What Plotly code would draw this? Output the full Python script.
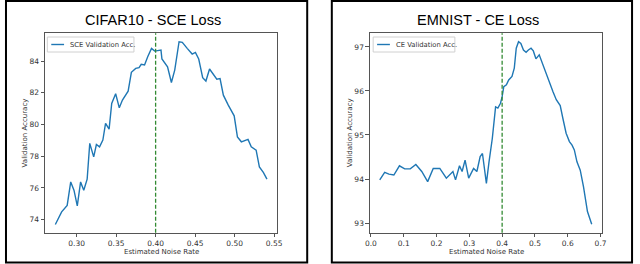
import plotly.graph_objects as go

# ---- data ----
cifar_noise = [0.273,0.281,0.288,0.2925,0.2966,0.3008,0.305,0.309,0.3133,0.3166,0.3216,0.325,0.329,0.3332,
               0.3366,0.3411,0.3444,0.3494,0.354,0.358,0.3652,0.3693,0.3748,0.379,0.3818,0.386,0.390,0.3948,
               0.3989,0.4068,0.408,0.4151,0.420,0.4242,0.4297,0.4338,0.440,0.4463,0.4504,0.4546,0.4596,0.4637,
               0.4683,0.4725,0.4775,0.4816,0.4858,0.492,0.4995,0.5036,0.5086,0.517,0.5211,0.5273,0.5314,0.5364,0.541]
cifar_acc = [73.70,74.49,74.9,76.38,75.86,74.87,76.38,75.86,76.55,78.81,77.96,78.74,78.59,79.02,80.07,79.71,
             81.33,81.94,81.05,81.54,82.1,83.29,83.54,83.58,83.79,83.75,84.27,84.8,84.63,84.69,84.13,83.64,
             82.65,83.43,85.22,85.18,84.8,84.44,84.55,84.13,82.95,82.74,83.5,83.22,82.86,82.9,81.85,81.22,
             80.55,79.22,78.91,79.06,78.59,78.38,77.33,76.98,76.56]

emnist_noise = [0.027,0.042,0.055,0.07,0.087,0.103,0.12,0.137,0.155,0.173,0.19,0.21,0.23,0.25,0.258,0.27,
                0.278,0.287,0.298,0.313,0.323,0.333,0.34,0.352,0.36,0.37,0.38,0.387,0.395,0.40,0.405,0.413,
                0.42,0.43,0.437,0.443,0.45,0.457,0.465,0.473,0.48,0.488,0.495,0.503,0.513,0.522,0.535,0.545,
                0.555,0.565,0.577,0.585,0.595,0.605,0.613,0.62,0.628,0.638,0.648,0.66,0.673]
emnist_acc = [93.98,94.15,94.11,94.09,94.30,94.23,94.23,94.33,94.17,93.94,94.24,94.24,94.02,94.17,93.98,
              94.30,94.17,94.43,94.02,94.24,94.17,94.51,94.58,93.9,94.39,94.92,95.64,95.61,95.72,95.87,
              96.1,96.14,96.25,96.33,96.52,96.97,97.12,97.08,96.93,96.88,96.93,96.97,96.91,96.73,96.82,
              96.63,96.36,96.17,95.98,95.80,95.67,95.38,95.04,94.85,94.77,94.66,94.39,94.2,93.82,93.26,92.97]

true_noise = 0.4

cifar_xticks = [0.30, 0.35, 0.40, 0.45, 0.50, 0.55]
cifar_yticks = [74, 76, 78, 80, 82, 84]
emnist_xticks = [0.0, 0.1, 0.2, 0.3, 0.4, 0.5, 0.6, 0.7]
emnist_yticks = [93, 94, 95, 96, 97]

titles = ["CIFAR10 - SCE Loss", "EMNIST - CE Loss"]
legend_names = ["SCE Validation Acc.", "CE Validation Acc."]
xlabel = "Estimated Noise Rate"
ylabel = "Validation Accuracy"

# ---- layout helpers ----
W, H = 640, 264
def px(x): return x / W
def py(y): return 1 - y / H

BLUE = "#1f77b4"
GREEN = "#338a33"
SPINE = "#555555"
TXT = "#333333"
FONT = "DejaVu Sans"

fig = go.Figure()
fig.add_trace(go.Scatter(x=cifar_noise, y=cifar_acc, mode="lines", name=legend_names[0],
                         line=dict(color=BLUE, width=1.4), xaxis="x", yaxis="y"))
fig.add_trace(go.Scatter(x=emnist_noise, y=emnist_acc, mode="lines", name=legend_names[1],
                         line=dict(color=BLUE, width=1.4), xaxis="x2", yaxis="y2"))

def axis_common():
    return dict(showline=True, linecolor=SPINE, linewidth=1, mirror=True, showgrid=False, zeroline=False,
                ticks="outside", ticklen=3.5, tickwidth=1, tickcolor=SPINE,
                tickfont=dict(family=FONT, size=7.5, color=TXT))

plot_boxes = [(40.7, 276.7), (370.7, 606.7)]
top, bottom = 33.3, 232.7

fig.update_layout(
    width=W, height=H, margin=dict(l=0, r=0, t=0, b=0),
    paper_bgcolor="white", plot_bgcolor="white", showlegend=False,
    xaxis=dict(domain=[px(40.7), px(276.7)], range=[0.2600, 0.5542], anchor="y",
               tickvals=cifar_xticks, ticktext=[f"{v:.2f}" for v in cifar_xticks], **axis_common()),
    yaxis=dict(domain=[py(bottom), py(top)], range=[73.18, 85.75], anchor="x",
               tickvals=cifar_yticks, ticktext=[str(v) for v in cifar_yticks], **axis_common()),
    xaxis2=dict(domain=[px(370.7), px(606.7)], range=[-0.003, 0.705], anchor="y2",
                tickvals=emnist_xticks, ticktext=[f"{v:.1f}" for v in emnist_xticks], **axis_common()),
    yaxis2=dict(domain=[py(bottom), py(top)], range=[92.78, 97.31], anchor="x2",
                tickvals=emnist_yticks, ticktext=[str(v) for v in emnist_yticks], **axis_common()),
)

# true noise dashed lines
for xa, ya in [("x", "y"), ("x2", "y2")]:
    fig.add_shape(type="line", xref=xa, yref=f"{ya} domain", x0=true_noise, x1=true_noise, y0=0, y1=1,
                  line=dict(color=GREEN, width=1.3, dash="4px,2px"))

# panel borders
for (x0, x1) in [(1, 307), (332, 637)]:
    fig.add_shape(type="rect", xref="paper", yref="paper", x0=px(x0), x1=px(x1), y0=py(262.5), y1=py(1),
                  line=dict(color="black", width=2))

# compact legends (matplotlib style) drawn inside the plot areas
legend_boxes = [(43, 131), (374, 457)]
for (lx0, lx1), name in zip(legend_boxes, legend_names):
    fig.add_shape(type="rect", xref="paper", yref="paper", x0=px(lx0), x1=px(lx1), y0=py(52), y1=py(37),
                  line=dict(color="#d0d0d0", width=1), fillcolor="white")
    fig.add_shape(type="line", xref="paper", yref="paper", x0=px(lx0 + 4), x1=px(lx0 + 17), y0=py(44.5), y1=py(44.5),
                  line=dict(color=BLUE, width=1.4))
    fig.add_annotation(text=name, xref="paper", yref="paper", x=px(lx0 + 21), y=py(44.5),
                       showarrow=False, font=dict(family=FONT, size=6.8, color=TXT),
                       xanchor="left", yanchor="middle")

# titles and axis labels
for (l, r), t in zip(plot_boxes, titles):
    fig.add_annotation(text=t, xref="paper", yref="paper", x=px((l + r) / 2 - 8), y=py(20),
                       showarrow=False, font=dict(family="Liberation Sans, Arial", size=14.5, color="black"),
                       xanchor="center", yanchor="middle")
    fig.add_annotation(text=xlabel, xref="paper", yref="paper", x=px((l + r) / 2), y=py(252),
                       showarrow=False, font=dict(family=FONT, size=7, color=TXT),
                       xanchor="center", yanchor="middle")
    fig.add_annotation(text=ylabel, xref="paper", yref="paper", x=px(l - 20), y=py((top + bottom) / 2),
                       showarrow=False, textangle=-90, font=dict(family=FONT, size=7, color=TXT),
                       xanchor="center", yanchor="middle")

fig.write_html("out.html", config={"displayModeBar": False, "staticPlot": True},
               post_script="document.body.style.margin='0';document.body.style.overflow='hidden';")
